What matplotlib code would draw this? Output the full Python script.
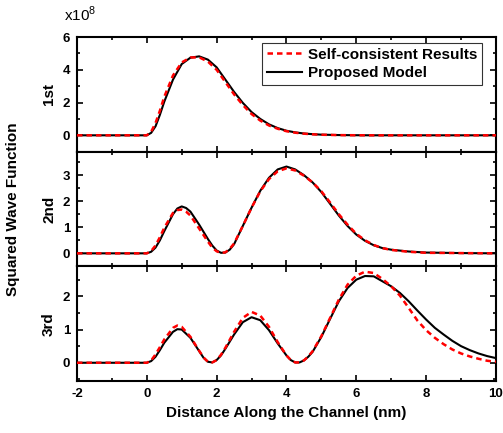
import numpy as np
import matplotlib
matplotlib.use('Agg')
import matplotlib.pyplot as plt
from matplotlib.ticker import MultipleLocator

plt.rcParams['font.family'] = ['Liberation Sans', 'DejaVu Sans']
plt.rcParams['axes.unicode_minus'] = False

# 1st state (x1e8)
x1 = [-2, 0, 0.125, 0.25, 0.375, 0.5, 0.75, 1.0, 1.25, 1.5, 1.75, 2.0, 2.25, 2.5,
      2.75, 3.0, 3.25, 3.5, 3.75, 4.0, 4.25, 4.5, 4.75, 5.0, 5.5, 6.0, 6.5, 7, 8, 9, 10]
pm1 = [0, 0, 0.15, 0.55, 1.25, 2.05, 3.4, 4.35, 4.74, 4.82, 4.62, 4.15, 3.4, 2.65,
       1.98, 1.42, 1.0, 0.67, 0.44, 0.28, 0.18, 0.11, 0.07, 0.04, 0.015, 0.005, 0, 0, 0, 0, 0]
sc1 = [0, 0, 0.22, 0.75, 1.5, 2.35, 3.65, 4.45, 4.75, 4.76, 4.5, 4.0, 3.25, 2.5,
       1.85, 1.3, 0.9, 0.6, 0.4, 0.25, 0.16, 0.1, 0.06, 0.035, 0.012, 0.004, 0, 0, 0, 0, 0]

# 2nd state
x2 = [-2, 0, 0.125, 0.25, 0.375, 0.5, 0.75, 0.875, 1.0, 1.125, 1.25, 1.5, 1.75, 1.875,
      2.0, 2.125, 2.25, 2.375, 2.5, 2.75, 3.0, 3.25, 3.5, 3.75, 4.0, 4.25, 4.5, 4.75,
      5.0, 5.25, 5.5, 5.75, 6.0, 6.25, 6.5, 6.75, 7.0, 7.5, 8.0, 9.0, 10.0]
pm2 = [0, 0, 0.06, 0.22, 0.5, 0.85, 1.5, 1.72, 1.8, 1.74, 1.6, 1.1, 0.55, 0.3,
       0.11, 0.02, 0.03, 0.14, 0.35, 1.05, 1.75, 2.4, 2.9, 3.22, 3.33, 3.22, 3.0, 2.72,
       2.35, 1.9, 1.45, 1.05, 0.72, 0.48, 0.31, 0.2, 0.14, 0.07, 0.03, 0.01, 0]
sc2 = [0, 0, 0.09, 0.3, 0.62, 0.98, 1.55, 1.66, 1.68, 1.6, 1.45, 0.95, 0.45, 0.22,
       0.08, 0.01, 0.04, 0.17, 0.38, 1.05, 1.75, 2.38, 2.85, 3.15, 3.26, 3.18, 2.98, 2.72,
       2.38, 1.95, 1.5, 1.1, 0.75, 0.5, 0.32, 0.2, 0.13, 0.06, 0.02, 0.01, 0]

# 3rd state
x3 = [-2, 0, 0.125, 0.25, 0.375, 0.5, 0.75, 0.875, 1.0, 1.25, 1.5, 1.625, 1.75, 1.875,
      2.0, 2.125, 2.25, 2.5, 2.75, 3.0, 3.25, 3.5, 3.75, 4.0, 4.125, 4.25, 4.375, 4.5,
      4.625, 4.75, 5.0, 5.25, 5.5, 5.75, 6.0, 6.25, 6.5, 6.75, 7.0, 7.25, 7.5, 7.75,
      8.0, 8.25, 8.5, 8.75, 9.0, 9.25, 9.5, 9.75, 10.0]
pm3 = [0, 0, 0.05, 0.18, 0.38, 0.6, 0.93, 1.01, 1.0, 0.75, 0.35, 0.15, 0.03, 0.01,
       0.08, 0.22, 0.42, 0.85, 1.22, 1.37, 1.28, 0.98, 0.58, 0.22, 0.08, 0.01, 0.01, 0.07,
       0.18, 0.33, 0.78, 1.32, 1.85, 2.25, 2.5, 2.61, 2.6, 2.45, 2.3, 2.1, 1.85, 1.57,
       1.3, 1.05, 0.85, 0.66, 0.5, 0.38, 0.28, 0.2, 0.14]
sc3 = [0, 0, 0.07, 0.25, 0.47, 0.7, 1.05, 1.12, 1.08, 0.78, 0.36, 0.16, 0.03, 0.01,
       0.08, 0.24, 0.45, 0.93, 1.35, 1.53, 1.42, 1.08, 0.62, 0.22, 0.08, 0.01, 0.01, 0.07,
       0.19, 0.35, 0.8, 1.35, 1.9, 2.35, 2.62, 2.74, 2.7, 2.52, 2.3, 2.02, 1.65, 1.27,
       0.98, 0.75, 0.56, 0.4, 0.28, 0.19, 0.12, 0.06, 0.03]

panels = [("1st", x1, sc1, pm1, (-1, 6), 2, 1),
          ("2nd", x2, sc2, pm2, (-0.5, 3.9), 1, 0.5),
          ("3rd", x3, sc3, pm3, (-0.55, 2.9), 1, 0.5)]

fig, axs = plt.subplots(3, 1, sharex=True, figsize=(5.03, 4.33), dpi=100)
fig.subplots_adjust(left=0.153, right=0.986, bottom=0.12, top=0.9145, hspace=0)

for ax, (name, xx, sc, pm, yl, maj, mnr) in zip(axs, panels):
    ax.plot(xx, pm, '-', color='black', lw=1.5, label='Proposed Model', zorder=2)
    ax.plot(xx, sc, '--', color='red', lw=1.8, dashes=(2.2, 1.6),
            label='Self-consistent Results', zorder=3)
    ax.set_ylim(*yl)
    ax.set_xlim(-2, 10)
    ax.yaxis.set_major_locator(MultipleLocator(maj))
    ax.yaxis.set_minor_locator(MultipleLocator(mnr))
    ax.xaxis.set_major_locator(MultipleLocator(2))
    ax.xaxis.set_minor_locator(MultipleLocator(1))
    ax.tick_params(which='both', direction='in', top=True, right=True,
                   labelsize=9.5, width=1.2, pad=5)
    ax.tick_params(which='major', length=4.5)
    ax.tick_params(which='minor', length=2.5)
    for s in ax.spines.values():
        s.set_linewidth(1.5)
    for lab in ax.get_yticklabels() + ax.get_xticklabels():
        lab.set_fontweight('bold')
    ax.set_ylabel(name, fontsize=11, fontweight='bold')
    ax.yaxis.set_label_coords(-0.05, 0.5)

h, l = axs[0].get_legend_handles_labels()
leg = axs[0].legend(h[::-1], l[::-1], loc='upper right',
                    frameon=True, fancybox=False, handlelength=2.3,
                    borderpad=0.3, labelspacing=0.3, handletextpad=0.4,
                    borderaxespad=0, bbox_to_anchor=(0.967, 0.947),
                    prop={'weight': 'bold', 'size': 11})
leg.get_frame().set_edgecolor('black')
leg.get_frame().set_linewidth(0.8)

axs[2].set_xlabel('Distance Along the Channel (nm)', fontsize=11,
                  fontweight='bold', labelpad=4)
fig.text(0.026, 0.517, 'Squared Wave Function', rotation=90, fontsize=11,
         fontweight='bold', ha='center', va='center')
fig.text(0.128, 0.945, r'x10$^{\mathregular{8}}$', fontsize=11, fontweight='normal',
         ha='left', va='bottom')

plt.savefig('out.png', dpi=100)
